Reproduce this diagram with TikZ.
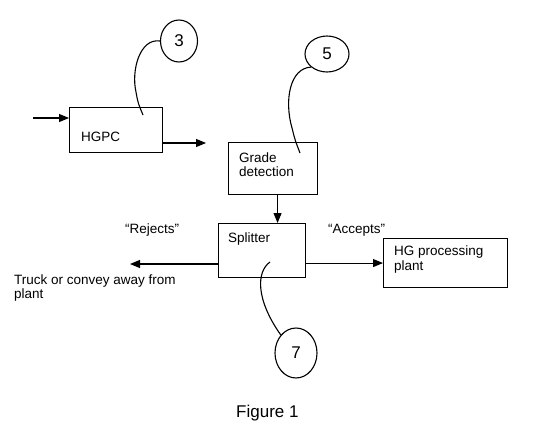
\documentclass[tikz,border=0pt]{standalone}
\usepackage{fontspec}
\setmainfont{Liberation Sans}
\usetikzlibrary{arrows.meta,shapes.geometric}
\tikzset{
  box/.style={draw, line width=1.1pt, rectangle, inner sep=0pt, anchor=north west},
  txt/.style={inner sep=0pt, anchor=base west, font=\fontsize{13.5}{15}\selectfont},
  arr/.style={line width=1.1pt, -{Triangle[length=10pt,width=8pt]}},
  callout/.style={draw, line width=1.1pt, ellipse, inner sep=0pt, font=\fontsize{17}{19}\selectfont},
  leader/.style={line width=1.1pt}
}
\begin{document}
\begin{tikzpicture}[x=1pt,y=1pt]
\useasboundingbox[fill=white] (0,0) rectangle (540,-425);
% boxes
\node[box, minimum width=93pt, minimum height=45pt] (hgpc) at (69,-107) {};
\node[box, minimum width=89pt, minimum height=52pt] (gd) at (228,-142) {};
\node[box, minimum width=87pt, minimum height=54pt] (sp) at (218,-223) {};
\node[box, minimum width=124pt, minimum height=49pt] (hg) at (383,-238) {};
% texts
\node[txt] (t1) at (81,-141) {HGPC};
\node[txt] (t2) at (239,-162) {Grade};
\node[txt] (t3) at (239,-176) {detection};
\node[txt] (t4) at (228,-242) {Splitter};
\node[txt] (t5) at (394,-255) {HG processing};
\node[txt] (t6) at (394,-270) {plant};
\node[txt] (t7) at (125,-233) {“Rejects”};
\node[txt] (t8) at (328,-233) {“Accepts”};
\node[txt] (t9) at (14,-284) {Truck or convey away from};
\node[txt] (t10) at (14,-298) {plant};
\node[txt, font=\fontsize{17}{19}\selectfont] (fig) at (236,-417) {Figure 1};
% callouts
\node[callout, minimum width=37pt, minimum height=42pt] (c3) at (179,-41) {3};
\node[callout, minimum width=44pt, minimum height=36pt] (c5) at (327,-54) {5};
\node[callout, minimum width=42pt, minimum height=50pt] (c7) at (296,-353) {7};
\coordinate (p3) at (143,-115);
\coordinate (p5) at (300,-153);
\coordinate (p7) at (270,-262);
\draw[leader] (c3.west) .. controls (140,-38) and (131,-70) .. (136,-92) .. controls (138,-103) .. (p3);
\draw[leader] (c5.south west) .. controls (290,-68) and (284,-100) .. (292,-128) .. controls (295,-140) .. (p5);
\draw[leader] (p7) .. controls (256,-272) and (256,-300) .. (c7.north west);
% connectors
\coordinate (in) at (33,-118);
\coordinate (out) at (206,-143);
\coordinate (rej) at (130,-264);
\draw[arr] (in) -- (hgpc.west |- in);
\draw[arr] (hgpc.east |- out) -- (out);
\draw[arr] ([xshift=4.5pt]gd.south) -- ([xshift=4.5pt]gd.south |- sp.north);
\draw[arr] (sp.west |- rej) -- (rej);
\draw[arr] (sp.east |- hg.west) -- (hg.west);
\end{tikzpicture}
\end{document}
